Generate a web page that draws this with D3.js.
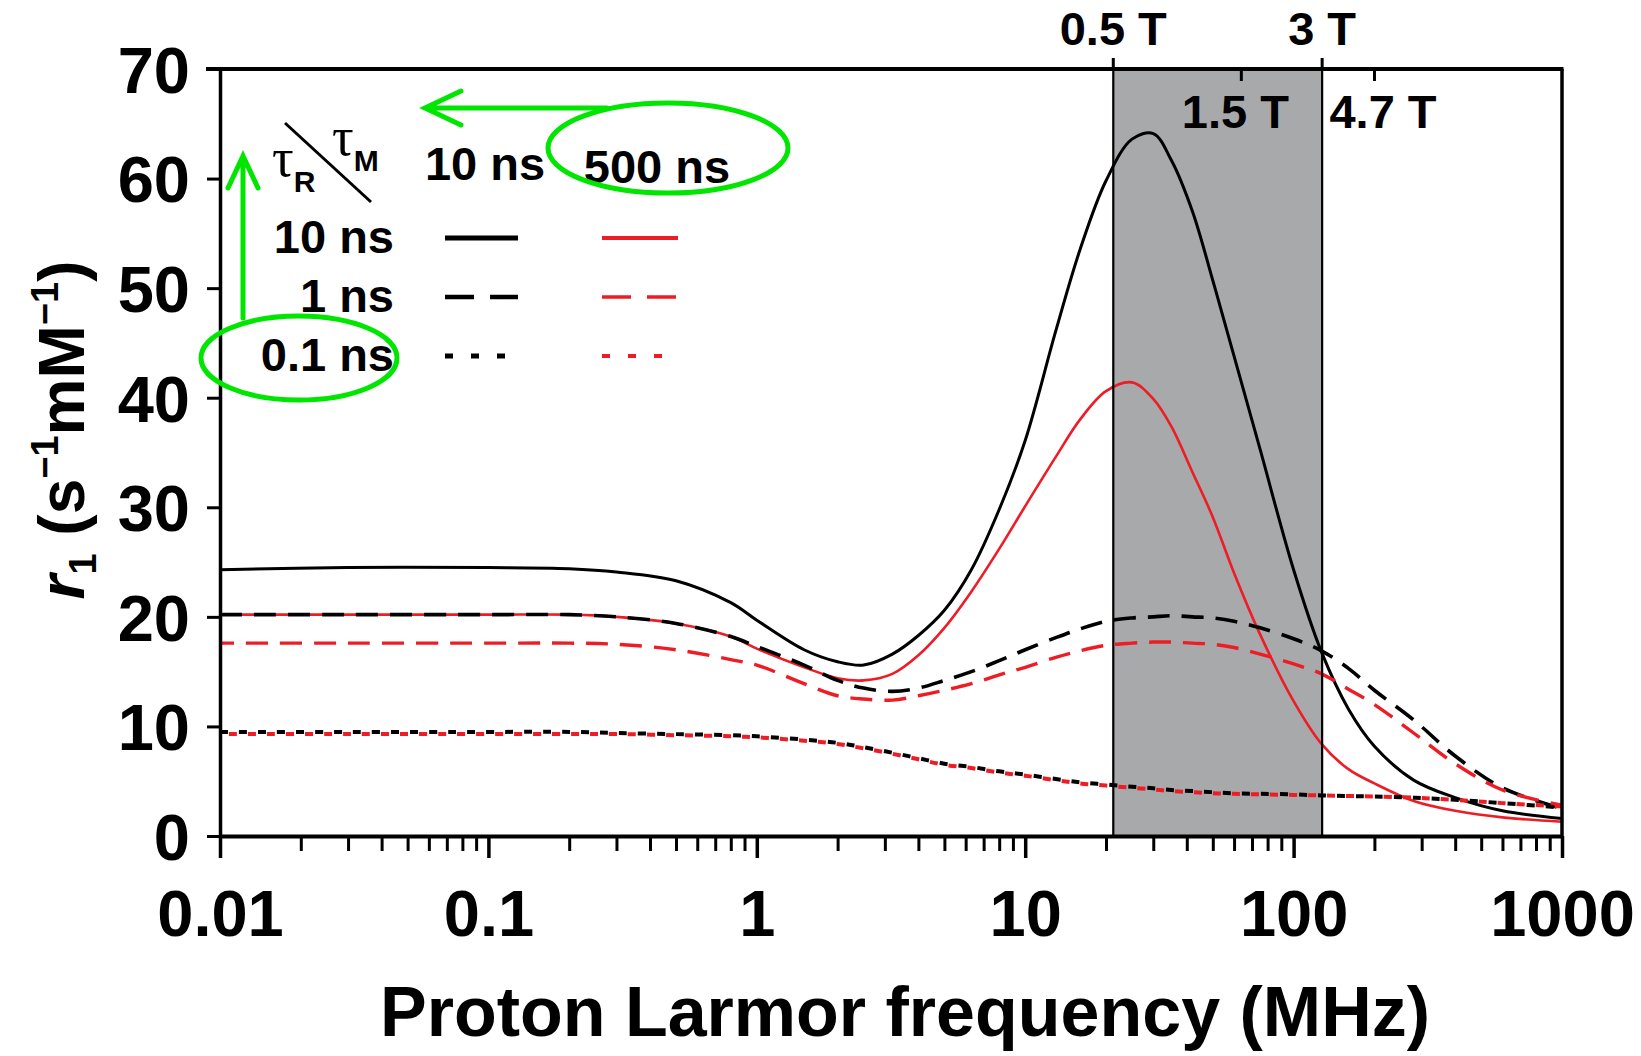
<!DOCTYPE html>
<html>
<head>
<meta charset="utf-8">
<script src="https://cdn.jsdelivr.net/npm/d3@7"></script>
<style>
  body { margin: 0; background: #fff; }
  text { font-family: "Liberation Sans", Arial, sans-serif; font-weight: bold; }
</style>
</head>
<body>
<div class="canvas"></div>
<script>
const
    width = 1641,
    height = 1056,
    plotLeft = 220, plotRight = 1562, plotTop = 69, plotBottom = 836;

// data
const freq = [0.01, 0.03, 0.1, 0.2, 0.3, 0.5, 0.8, 1, 1.5, 2, 2.5, 3.2, 4, 5, 6.3, 8, 10, 13, 16, 20,
    25, 30, 35, 42, 50, 60, 75, 100, 127, 160, 200, 280, 400, 600, 1000];
const blackSolid = [24.3, 24.5, 24.5, 24.4, 24.1, 23.3, 21.3, 19.7, 17.0, 15.9, 15.6, 16.6, 18.3, 20.6, 24.3, 29.8, 36.1, 46.1, 53.5, 59.8,
    63.6, 64.1, 61.7, 57.0, 50.7, 43.8, 35.3, 24.3, 16.8, 11.6, 8.2, 5.1, 3.5, 2.3, 1.6];
const redSolid = [20.2, 20.2, 20.2, 20.2, 20.0, 19.4, 18.2, 17.1, 15.4, 14.4, 14.2, 14.8, 16.5, 19.0, 22.3, 26.2, 30.1, 34.6, 38.0, 40.6,
    41.4, 39.9, 37.4, 33.2, 29.1, 24.0, 18.4, 12.3, 8.4, 6.1, 4.8, 3.2, 2.3, 1.7, 1.3];
const blackDashed = [20.2, 20.2, 20.2, 20.2, 20.0, 19.4, 18.2, 17.3, 15.6, 14.2, 13.5, 13.2, 13.5, 14.2, 15.0, 16.0, 17.0, 18.1, 18.9, 19.6,
    19.9, 20.0, 20.1, 20.0, 19.9, 19.6, 19.0, 18.0, 16.9, 15.3, 13.3, 10.6, 7.3, 4.4, 2.5];
const redDashed = [17.6, 17.6, 17.6, 17.6, 17.5, 17.0, 16.1, 15.6, 13.9, 12.8, 12.5, 12.4, 12.8, 13.3, 13.9, 14.7, 15.4, 16.3, 16.9, 17.4,
    17.6, 17.7, 17.7, 17.6, 17.5, 17.2, 16.6, 15.7, 14.8, 13.4, 12.0, 9.4, 6.6, 4.2, 2.8];
const blackDotted = [9.5, 9.5, 9.5, 9.5, 9.4, 9.3, 9.2, 9.1, 8.8, 8.5, 8.1, 7.6, 7.1, 6.6, 6.3, 5.9, 5.6, 5.2, 4.9, 4.7,
    4.5, 4.35, 4.2, 4.1, 4.0, 3.9, 3.85, 3.8, 3.7, 3.65, 3.6, 3.5, 3.3, 3.0, 2.6];
const redDotted = [9.3, 9.3, 9.3, 9.3, 9.3, 9.2, 9.1, 9.0, 8.7, 8.4, 8.0, 7.5, 7.0, 6.5, 6.2, 5.8, 5.5, 5.1, 4.8, 4.6,
    4.4, 4.25, 4.1, 4.0, 3.9, 3.85, 3.8, 3.75, 3.7, 3.65, 3.6, 3.5, 3.3, 3.0, 2.7];

const xTicks = [0.01, 0.1, 1, 10, 100, 1000];
const xTickLabels = ["0.01", "0.1", "1", "10", "100", "1000"];
const yTicks = [0, 10, 20, 30, 40, 50, 60, 70];
const fieldT = [0.5, 1.5, 3, 4.7];
const fieldLabels = ["0.5 T", "1.5 T", "3 T", "4.7 T"];
const larmor = 42.58; // MHz per tesla
const tauR = ["10 ns", "1 ns", "0.1 ns"];
const tauM = ["10 ns", "500 ns"];

const svg = d3.select('.canvas').append("svg")
    .attr('width', width)
    .attr('height', height);

const x = d3.scaleLog().domain([0.01, 1000]).range([plotLeft, plotRight]);
const y = d3.scaleLinear().domain([0, 70]).range([plotBottom, plotTop]);

// shaded field range 0.5 T - 3 T
const bx0 = x(fieldT[0] * larmor), bx1 = x(fieldT[2] * larmor);
svg.append('rect')
    .attr('x', bx0).attr('y', plotTop)
    .attr('width', bx1 - bx0).attr('height', plotBottom - plotTop)
    .attr('fill', '#a8a9ab');

svg.append('defs').append('clipPath').attr('id', 'plot')
    .append('rect').attr('x', plotLeft).attr('y', plotTop - 2)
    .attr('width', plotRight - plotLeft).attr('height', plotBottom - plotTop + 2);

const series = [
    { v: blackSolid, color: '#000', w: 3, dash: null, off: 0 },
    { v: redSolid, color: '#ee1c25', w: 2.6, dash: null, off: 0 },
    { v: blackDashed, color: '#000', w: 3.6, dash: '22,12', off: 0 },
    { v: redDashed, color: '#ee1c25', w: 3.4, dash: '22,12', off: 8 },
    { v: blackDotted, color: '#000', w: 4, dash: '8,11', off: 0 },
    { v: redDotted, color: '#ee1c25', w: 4, dash: '8,11', off: 10 }
];

const line = d3.line()
    .x(d => x(d[0]))
    .y(d => y(d[1]))
    .curve(d3.curveCatmullRom.alpha(0.5));

svg.append('g').attr('clip-path', 'url(#plot)')
    .selectAll('path')
    .data(series)
    .enter()
    .append('path')
    .attr('d', s => line(freq.map((f, i) => [f, s.v[i]])))
    .attr('fill', 'none')
    .attr('stroke', s => s.color)
    .attr('stroke-width', s => s.w)
    .attr('stroke-dasharray', s => s.dash)
    .attr('stroke-dashoffset', s => s.off);

// band edges
svg.selectAll('.edge')
    .data([bx0, bx1])
    .enter()
    .append('line')
    .attr('x1', d => d).attr('x2', d => d)
    .attr('y1', plotTop).attr('y2', plotBottom)
    .attr('stroke', '#000').attr('stroke-width', 2.2);

// frame: top and right
svg.append('line').attr('x1', plotLeft - 14).attr('x2', plotRight + 1.5).attr('y1', plotTop).attr('y2', plotTop)
    .attr('stroke', '#000').attr('stroke-width', 4);
svg.append('line').attr('x1', plotRight).attr('x2', plotRight).attr('y1', plotTop).attr('y2', plotBottom)
    .attr('stroke', '#000').attr('stroke-width', 3.5);

// minor x ticks
const minor = [];
for (let e = -2; e < 3; e++) for (let k = 2; k < 10; k++) minor.push(k * Math.pow(10, e));
svg.append('g')
    .attr('transform', `translate(0,${plotBottom})`)
    .call(d3.axisBottom(x).tickValues(minor).tickSize(15).tickFormat(''))
    .call(g => g.select('.domain').remove())
    .call(g => g.selectAll('line').attr('stroke-width', 3));

// x axis
svg.append('g')
    .attr('transform', `translate(0,${plotBottom})`)
    .call(d3.axisBottom(x).tickValues(xTicks).tickSize(22).tickSizeOuter(0)
        .tickFormat((d, i) => xTickLabels[i]))
    .call(g => g.select('.domain').attr('stroke-width', 4))
    .call(g => g.selectAll('.tick line').attr('stroke-width', 3.5))
    .call(g => g.selectAll('text').attr('font-size', 65).attr('fill', '#000')
        .attr('y', 100).attr('dy', 0));

// y axis
svg.append('g')
    .attr('transform', `translate(${plotLeft},0)`)
    .call(d3.axisLeft(y).tickValues(yTicks).tickSize(13).tickSizeOuter(0))
    .call(g => g.select('.domain').attr('stroke-width', 3.5))
    .call(g => g.selectAll('.tick line').attr('stroke-width', 3))
    .call(g => g.selectAll('text').attr('font-size', 65).attr('fill', '#000')
        .attr('x', -30).attr('dy', '0.36em'));

// field ticks on the top edge
svg.selectAll('.ftick')
    .data(fieldT)
    .enter()
    .append('line')
    .attr('x1', d => x(d * larmor)).attr('x2', d => x(d * larmor))
    .attr('y1', plotTop)
    .attr('y2', (d, i) => i % 2 === 0 ? plotTop - 11 : plotTop + 12)
    .attr('stroke', '#000').attr('stroke-width', 3);

svg.selectAll('.flabel')
    .data(fieldT)
    .enter()
    .append('text')
    .attr('x', (d, i) => x(d * larmor) + [0, -6, 0, -45][i])
    .attr('y', (d, i) => i % 2 === 0 ? 45 : 128)
    .attr('text-anchor', (d, i) => i === 3 ? 'start' : 'middle')
    .attr('font-size', 47)
    .text((d, i) => fieldLabels[i]);

// axis titles
svg.append('text')
    .attr('x', 905).attr('y', 1036)
    .attr('text-anchor', 'middle')
    .attr('font-size', 70)
    .text('Proton Larmor frequency (MHz)');

const yl = svg.append('text')
    .attr('transform', 'translate(84,430) rotate(-90)')
    .attr('text-anchor', 'middle')
    .attr('font-size', 64);
yl.append('tspan').attr('font-style', 'italic').text('r');
yl.append('tspan').attr('font-size', 38).attr('dy', 12).text('1');
yl.append('tspan').attr('dy', -12).text(' (s');
yl.append('tspan').attr('font-size', 38).attr('dy', -26).text('−1');
yl.append('tspan').attr('dy', 26).text('mM');
yl.append('tspan').attr('font-size', 38).attr('dy', -26).text('−1');
yl.append('tspan').attr('dy', 26).text(')');

// legend header
svg.append('line').attr('x1', 285).attr('y1', 123).attr('x2', 371).attr('y2', 202)
    .attr('stroke', '#000').attr('stroke-width', 3);
const tr = svg.append('text').attr('x', 272).attr('y', 176);
tr.append('tspan').attr('font-family', '"Liberation Serif", serif').attr('font-weight', 'normal')
    .attr('font-size', 54).text('τ');
tr.append('tspan').attr('font-size', 30).attr('dy', 16).text('R');
const tm = svg.append('text').attr('x', 332).attr('y', 155);
tm.append('tspan').attr('font-family', '"Liberation Serif", serif').attr('font-weight', 'normal')
    .attr('font-size', 54).text('τ');
tm.append('tspan').attr('font-size', 30).attr('dy', 16).text('M');

svg.selectAll('.mhead')
    .data(tauM)
    .enter()
    .append('text')
    .attr('x', (d, i) => [485, 657][i])
    .attr('y', (d, i) => [180, 183][i])
    .attr('text-anchor', 'middle')
    .attr('font-size', 47)
    .text(d => d);

const rowY = [238, 297, 356];
svg.selectAll('.rhead')
    .data(tauR)
    .enter()
    .append('text')
    .attr('x', 394)
    .attr('y', (d, i) => rowY[i] + 15)
    .attr('text-anchor', 'end')
    .attr('font-size', 47)
    .text(d => d);

const legendDash = [null, '29,16', '8,18'];
const legendW = [5, 4.5, 5];
['#000', '#ee1c25'].forEach((c, j) => {
    svg.selectAll('.leg' + j)
        .data(tauR)
        .enter()
        .append('line')
        .attr('x1', [445, 602][j]).attr('x2', [518, 678][j])
        .attr('y1', (d, i) => rowY[i]).attr('y2', (d, i) => rowY[i])
        .attr('stroke', c)
        .attr('stroke-width', (d, i) => legendW[i] - j * 0.8)
        .attr('stroke-dasharray', (d, i) => legendDash[i]);
});

// green annotations
const green = '#00e600';
svg.append('ellipse').attr('cx', 668).attr('cy', 148).attr('rx', 120).attr('ry', 45)
    .attr('fill', 'none').attr('stroke', green).attr('stroke-width', 5);
svg.append('ellipse').attr('cx', 299).attr('cy', 358).attr('rx', 98).attr('ry', 42)
    .attr('fill', 'none').attr('stroke', green).attr('stroke-width', 5);
const arrow = svg.append('g').attr('stroke', green).attr('stroke-width', 5)
    .attr('fill', 'none').attr('stroke-linecap', 'round');
arrow.append('path').attr('d', 'M607,108 L425,108 M461,91 L425,108 L461,125');
arrow.append('path').attr('d', 'M243,318 L243,156 M228,188 L243,156 L258,188');
</script>
</body>
</html>
